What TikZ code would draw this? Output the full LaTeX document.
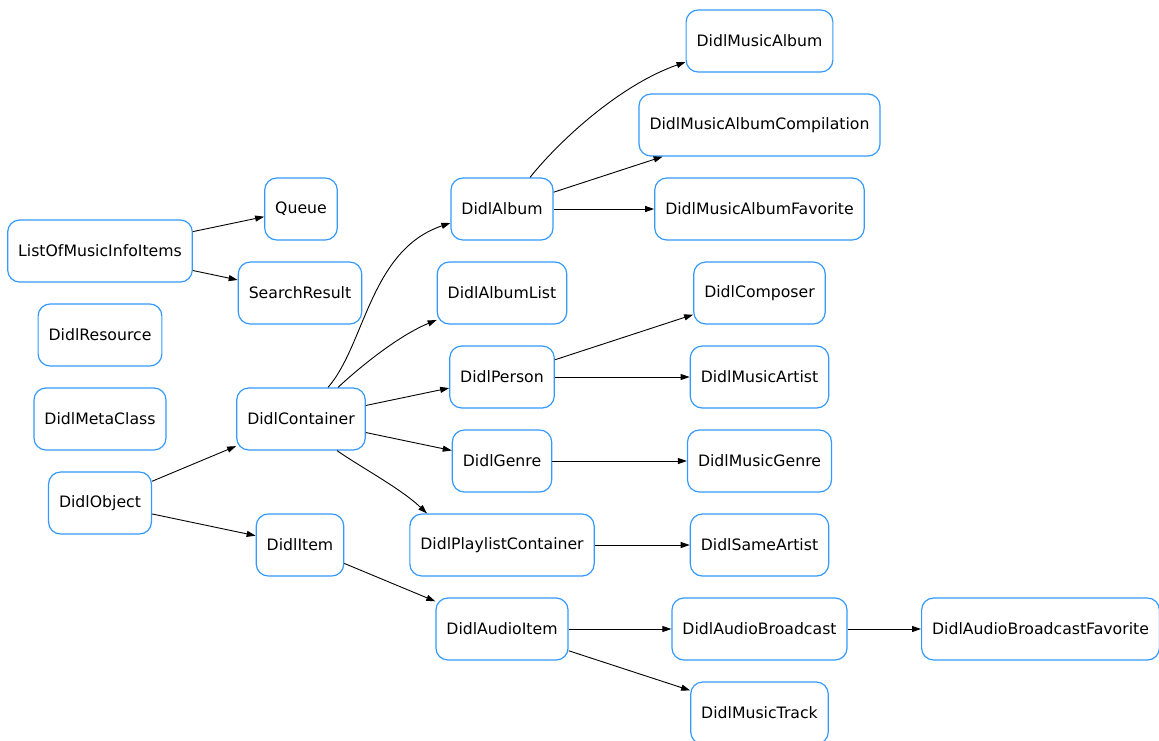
\documentclass[tikz,border=0pt]{standalone}
\usepackage{fontspec}
\setmainfont{DejaVu Sans}
\usetikzlibrary{arrows.meta}

\definecolor{clsblue}{RGB}{51,153,255}

\begin{document}
\begin{tikzpicture}[x=1pt,y=1pt,
		cls/.style={draw=clsblue,line width=1.2pt,rounded corners=12pt,
			minimum height=62pt,inner xsep=10.5pt,font=\fontsize{15.7}{18}\selectfont},
		inh/.style={-{Triangle[length=9pt,width=6pt]},line width=0.9pt}]
		\useasboundingbox (0,0) rectangle (1159,-740);
		% first column
		\node[cls] (listinfo) at (100,-251) {ListOfMusicInfoItems};
		\node[cls] (resource) at (100,-335) {DidlResource};
		\node[cls] (metaclass) at (100,-419) {DidlMetaClass};
		\node[cls] (object) at (100,-503) {DidlObject};
		% second column
		\node[cls] (queue) at (301,-209) {Queue};
		\node[cls] (search) at (300,-293) {SearchResult};
		\node[cls] (container) at (301,-419) {DidlContainer};
		\node[cls] (item) at (300,-545) {DidlItem};
		% third column
		\node[cls] (album) at (502,-209) {DidlAlbum};
		\node[cls] (albumlist) at (502,-293) {DidlAlbumList};
		\node[cls] (person) at (502,-377) {DidlPerson};
		\node[cls] (genre) at (502,-461) {DidlGenre};
		\node[cls] (playlist) at (502,-545) {DidlPlaylistContainer};
		\node[cls] (audioitem) at (502,-629) {DidlAudioItem};
		% fourth column
		\node[cls] (musicalbum) at (759.5,-41) {DidlMusicAlbum};
		\node[cls] (compilation) at (759.5,-125) {DidlMusicAlbumCompilation};
		\node[cls] (albumfav) at (759.5,-209) {DidlMusicAlbumFavorite};
		\node[cls] (composer) at (759.5,-293) {DidlComposer};
		\node[cls] (artist) at (759.5,-377) {DidlMusicArtist};
		\node[cls] (musicgenre) at (759.5,-461) {DidlMusicGenre};
		\node[cls] (sameartist) at (759.5,-545) {DidlSameArtist};
		\node[cls] (broadcast) at (759.5,-629) {DidlAudioBroadcast};
		\node[cls] (track) at (759.5,-713) {DidlMusicTrack};
		% last one
		\node[cls] (broadcastfav) at (1040.5,-629) {DidlAudioBroadcastFavorite};
		% inheritance
		\draw[inh] (listinfo) -- (queue);
		\draw[inh] (listinfo) -- (search);
		\draw[inh] (object) -- (container);
		\draw[inh] (object) -- (item);
		\draw[inh] ([xshift=27pt]container.north) .. controls (365,-345) and (370,-250) .. (album.west |- 0,-223);
		\draw[inh] ([xshift=37pt]container.north) .. controls (362,-365) and (400,-335) .. (albumlist.south west |- 0,-320);
		\draw[inh] (container) -- (person);
		\draw[inh] (container) -- (genre);
		\draw[inh] ([xshift=36pt]container.south) .. controls (362,-468) and (400,-488) .. ([xshift=-75pt]playlist.north);
		\draw[inh] ([xshift=28pt]album.north) .. controls (560,-140) and (620,-85) .. (musicalbum.west |- 0,-62);
		\draw[inh] (album) -- (compilation);
		\draw[inh] (album) -- (albumfav);
		\draw[inh] (person) -- (composer);
		\draw[inh] (person) -- (artist);
		\draw[inh] (genre) -- (musicgenre);
		\draw[inh] (playlist) -- (sameartist);
		\draw[inh] (item) -- (audioitem);
		\draw[inh] (audioitem) -- (broadcast);
		\draw[inh] (audioitem) -- (track);
		\draw[inh] (broadcast) -- (broadcastfav);
	\end{tikzpicture}
\end{document}
